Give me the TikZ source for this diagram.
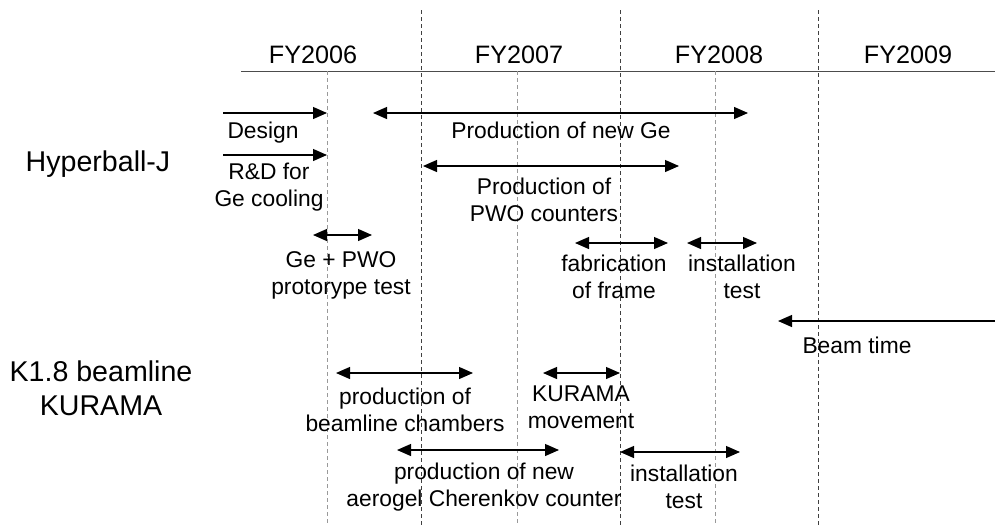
\documentclass[tikz,border=0pt]{standalone}
\usepackage{fontspec}
\setmainfont{Liberation Sans}
\usetikzlibrary{arrows.meta}

\begin{document}
\begin{tikzpicture}[x=0.5pt,y=-0.5pt,
    yearline/.style={draw=black!75,line width=0.5pt,dash pattern=on 2pt off 1.5pt},
    halfline/.style={draw=black!40,line width=0.5pt,dash pattern=on 2pt off 1.5pt},
    task/.style={draw=black,line width=0.6pt},
    lbl/.style={font=\fontsize{11.4}{13.5}\selectfont,align=center,anchor=base,inner sep=0pt},
    grp/.style={font=\fontsize{14.3}{17}\selectfont,align=center,anchor=base,inner sep=0pt},
    fy/.style={font=\fontsize{12.6}{15}\selectfont,anchor=base,inner sep=0pt}]
\begin{scope}[>={Triangle[length=7pt,width=6pt]}]

    \useasboundingbox (0,0) rectangle (995,525);

    % time axis (labels sit on the baseline of their last line)
    \draw[black!70,line width=0.5pt] (241,71) -- (995,71);
    \foreach \x in {421,620,818}
        \draw[yearline] (\x,10) -- (\x,525);
    \foreach \x in {327,517,715}
        \draw[halfline] (\x,71) -- (\x,525);

    \node[fy] (fy06) at (313,63) {FY2006};
    \node[fy] (fy07) at (519,63) {FY2007};
    \node[fy] (fy08) at (719,63) {FY2008};
    \node[fy] (fy09) at (908,63) {FY2009};

    % groups
    \node[grp] (hbj) at (98,171) {Hyperball-J};
    \node[grp] (k18) at (101,415) {K1.8 beamline\\KURAMA};

    % Hyperball-J
    \draw[task,->] (223,113) -- (327,113);
    \node[lbl] (design) at (263,138) {Design};
    \draw[task,<->] (373,113) -- (748,113);
    \node[lbl] (newge) at (561,138) {Production of new Ge};
    \draw[task,->] (223,155) -- (327,155);
    \node[lbl] (cool) at (269,206) {R\&D for\\Ge cooling};
    \draw[task,<->] (423,166) -- (679,166);
    \node[lbl] (pwo) at (544,221) {Production of\\PWO counters};
    \draw[task,<->] (313,235) -- (372,235);
    \node[lbl] (proto) at (341,294) {Ge + PWO\\protorype test};
    \draw[task,<->] (575,243) -- (668,243);
    \node[lbl] (frame) at (614,298) {fabrication\\of frame};
    \draw[task,<->] (687,243) -- (757,243);
    \node[lbl] (inst1) at (742,298) {installation\\test};
    \draw[task,->] (995,321) -- (778,321);
    \node[lbl] (beam) at (857,353) {Beam time};

    % K1.8 beamline / KURAMA
    \draw[task,<->] (336,373) -- (473,373);
    \node[lbl] (chamb) at (405,431) {production of\\beamline chambers};
    \draw[task,<->] (543,373) -- (620,373);
    \node[lbl] (move) at (581,428) {KURAMA\\movement};
    \draw[task,<->] (397,450) -- (559,450);
    \node[lbl] (aero) at (484,506) {production of new\\aerogel Cherenkov counter};
    \draw[task,<->] (620,452) -- (740,452);
    \node[lbl] (inst2) at (684,508) {installation\\test};
\end{scope}
\end{tikzpicture}
\end{document}
